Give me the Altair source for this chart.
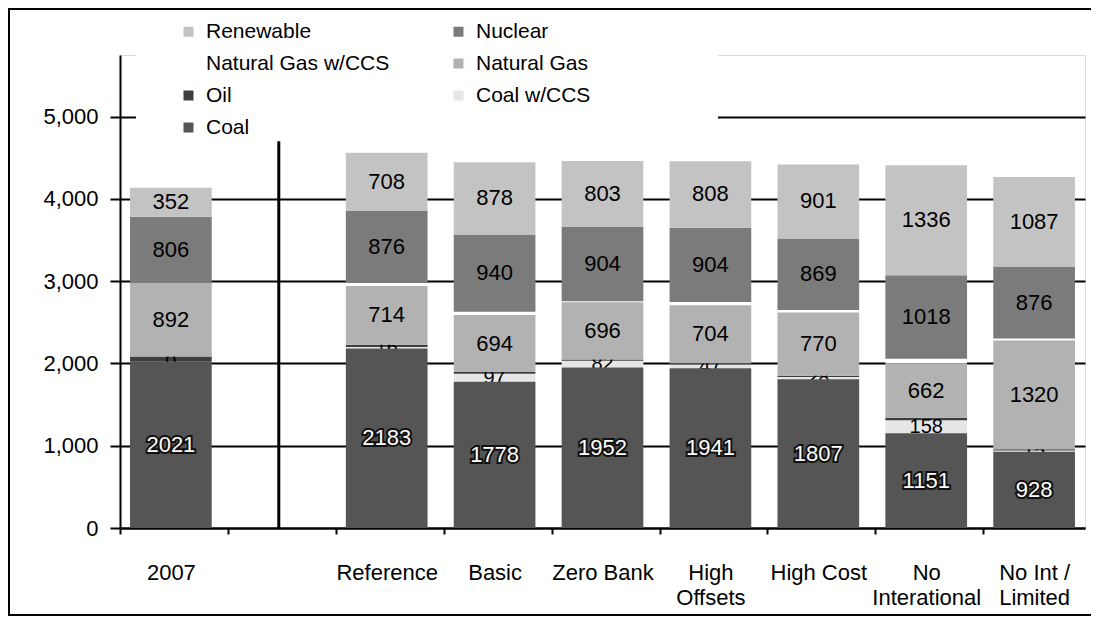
import altair as alt
import pandas as pd

# ---------------- data ----------------
SLOTS = ["2007", " ", "Reference", "Basic", "Zero Bank", "High|Offsets",
         "High Cost", "No|Interational", "No Int /|Limited"]
CATEGORIES = ["2007", "Reference", "Basic", "Zero Bank", "High|Offsets",
              "High Cost", "No|Interational", "No Int /|Limited"]

COAL = [2021, 2183, 1778, 1952, 1941, 1807, 1151, 928]
COAL_CCS = [0, 16, 97, 82, 47, 28, 158, 15]
OIL = [65, 30, 20, 15, 15, 15, 30, 15]
NATURAL_GAS = [892, 714, 694, 696, 704, 770, 662, 1320]
NATURAL_GAS_CCS = [0, 35, 40, 10, 40, 30, 55, 25]
NUCLEAR = [806, 876, 940, 904, 904, 869, 1018, 876]
RENEWABLE = [352, 708, 878, 803, 808, 901, 1336, 1087]

# stack order, bottom -> top
SOURCES = ["Coal", "Coal w/CCS", "Oil", "Natural Gas", "Natural Gas w/CCS",
           "Nuclear", "Renewable"]
SERIES = [COAL, COAL_CCS, OIL, NATURAL_GAS, NATURAL_GAS_CCS, NUCLEAR, RENEWABLE]

# legend entries (filled column by column: left column, then right column)
LEGEND_ORDER = ["Renewable", "Natural Gas w/CCS", "Oil", "Coal",
                "Nuclear", "Natural Gas", "Coal w/CCS"]
LEGEND_COLORS = ["#c3c3c3", "#ffffff", "#3e3e3e", "#555555",
                 "#7b7b7b", "#b2b2b2", "#e6e6e6"]

SEPARATOR_TOP = 4700
Y_MAX = 5750
Y_TICKS = [0, 1000, 2000, 3000, 4000, 5000]

rows = []
for i, cat in enumerate(CATEGORIES):
    base = 0
    for src, vals in zip(SOURCES, SERIES):
        v = vals[i]
        rows.append(dict(category=cat, source=src, value=v,
                         y0=base, y1=base + v, mid=base + v / 2))
        base += v
df = pd.DataFrame(rows)
sep = pd.DataFrame({"category": [" "], "bottom": [0], "top": [SEPARATOR_TOP]})

FONT = "Liberation Sans"

xscale = alt.Scale(domain=SLOTS, paddingInner=0.243, paddingOuter=0.093)
xaxis = alt.Axis(title=None, labelExpr="split(datum.value, '|')", labelAngle=0,
                 labelFont=FONT, labelFontSize=22, labelColor="black",
                 labelPadding=28, labelLineHeight=25,
                 ticks=True, tickSize=6, tickColor="black", tickWidth=2,
                 bandPosition=0, tickOffset=-10, labelOffset=10,
                 domainColor="black", domainWidth=2, grid=False)
yscale = alt.Scale(domain=[0, Y_MAX], nice=False)
yaxis = alt.Axis(title=None, values=Y_TICKS, format=",.0f", labelFont=FONT,
                 labelFontSize=22, labelColor="black", labelPadding=12,
                 tickSize=10, tickColor="black", tickWidth=2,
                 domainColor="black", domainWidth=2,
                 grid=True, gridColor="black", gridWidth=2)

X = alt.X("category:N", scale=xscale, axis=xaxis)
color = alt.Color("source:N",
                  scale=alt.Scale(domain=LEGEND_ORDER, range=LEGEND_COLORS),
                  legend=alt.Legend(orient="none", legendX=58, legendY=-34,
                                    columns=2, columnPadding=58, rowPadding=10,
                                    symbolType="square", symbolSize=100,
                                    symbolStrokeWidth=0, labelFont=FONT,
                                    labelFontSize=21, labelColor="black",
                                    labelOffset=7, labelLimit=400, title=None,
                                    zindex=1, padding=0))

base = alt.Chart(df)
THIN = ["Coal w/CCS", "Oil", "Natural Gas w/CCS"]
MAIN = ["Coal", "Natural Gas", "Nuclear", "Renewable"]

thin_bars = base.mark_bar().encode(
    x=X, y=alt.Y("y0:Q", scale=yscale, axis=yaxis), y2="y1:Q", color=color
).transform_filter(alt.FieldOneOfPredicate(field="source", oneOf=THIN))

thin_labels = base.mark_text(font=FONT, fontSize=20, color="black").encode(
    x=X, y=alt.Y("mid:Q", scale=yscale, axis=yaxis), text="value:Q"
).transform_filter(alt.datum.source == "Coal w/CCS")

main_bars = base.mark_bar().encode(
    x=X, y=alt.Y("y0:Q", scale=yscale, axis=yaxis), y2="y1:Q", color=color
).transform_filter(alt.FieldOneOfPredicate(field="source", oneOf=MAIN))

coal_halo = base.mark_text(font=FONT, fontSize=22, stroke="#111111",
                           strokeWidth=4, fill="#111111").encode(
    x=X, y=alt.Y("mid:Q", scale=yscale, axis=yaxis), text="value:Q"
).transform_filter(alt.datum.source == "Coal")

coal_labels = base.mark_text(font=FONT, fontSize=22, color="white").encode(
    x=X, y=alt.Y("mid:Q", scale=yscale, axis=yaxis), text="value:Q"
).transform_filter(alt.datum.source == "Coal")

other_labels = base.mark_text(font=FONT, fontSize=22, color="black").encode(
    x=X, y=alt.Y("mid:Q", scale=yscale, axis=yaxis), text="value:Q"
).transform_filter(alt.FieldOneOfPredicate(
    field="source", oneOf=["Natural Gas", "Nuclear", "Renewable"]))

separator = alt.Chart(sep).mark_rule(color="black", strokeWidth=3).encode(
    x=X, y=alt.Y("bottom:Q", scale=yscale, axis=yaxis), y2="top:Q")

# white box behind the legend (covers grid / frame like in the original)
legend_box = alt.Chart(alt.Data(values=[{}])).mark_rect(color="white").encode(
    x=alt.value(16), x2=alt.value(598), y=alt.value(-47), y2=alt.value(84))

# outer frame of the figure
frame = alt.Chart(alt.Data(values=[{}])).mark_rect(
    filled=False, stroke="black", strokeWidth=2).encode(
    x=alt.value(-111), x2=alt.value(1000), y=alt.value(-46), y2=alt.value(560))

chart = alt.layer(
    thin_bars, thin_labels, main_bars, coal_halo, coal_labels, other_labels,
    separator, legend_box, frame
).properties(
    width=965, height=473,
    autosize=alt.AutoSizeParams(type="none"),
    padding={"left": 112, "top": 47, "right": 6, "bottom": 89},
).configure_view(stroke="black", strokeWidth=2).configure(background="white")

chart.save("out.html", embed_options={"renderer": "svg", "actions": False})
